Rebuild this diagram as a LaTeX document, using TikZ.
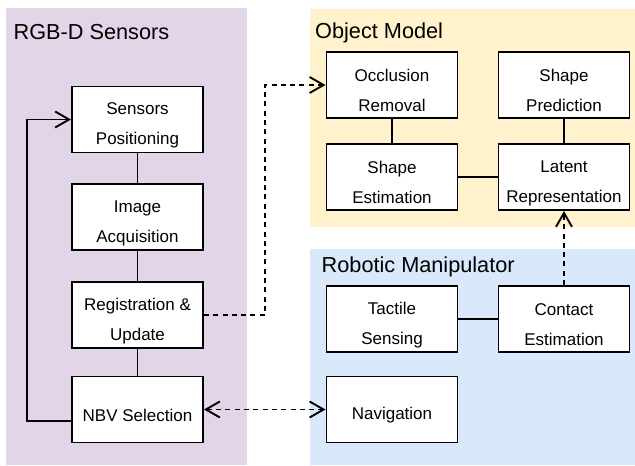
\documentclass[tikz,border=0pt]{standalone}
\usepackage{fontspec}
\setmainfont{Liberation Sans}
\usetikzlibrary{arrows.meta}
\definecolor{pfill}{HTML}{E1D5E7}
\definecolor{ofill}{HTML}{FFF2CC}
\definecolor{bfill}{HTML}{DAE8FC}
\newcommand{\bxs}{\rule[-1pt]{0pt}{25pt}}
\tikzset{
  ptitle/.style={anchor=base west, inner sep=0pt, font=\fontsize{21.7}{26}\selectfont},
  box/.style={draw=black, fill=white, line width=1.9pt, minimum width=131pt, minimum height=66pt,
    inner sep=0pt, align=center, font=\fontsize{17}{30}\selectfont},
  conn/.style={line width=1.9pt},
  tip/.style={},
  arr/.style={conn, -{Straight Barb[length=14pt,width=16pt,line width=1.9pt]}},
  dasharr/.style={arr, dash pattern=on 5pt off 4.3pt},
  dasharr2/.style={conn, dash pattern=on 5pt off 4.3pt, {Straight Barb[length=14pt,width=16pt,line width=1.9pt]}-{Straight Barb[length=14pt,width=16pt,line width=1.9pt]}}
}
\begin{document}
\begin{tikzpicture}[x=1pt,y=-1pt]
\useasboundingbox (0,0) rectangle (635,466);
% panels
\fill[pfill] (6,8) rectangle (247,465);
\fill[ofill] (310,9) rectangle (635,227);
\fill[bfill] (310,249) rectangle (635,465);
\node[ptitle] (t1) at (13.5,39) {RGB-D Sensors};
\node[ptitle] (t2) at (315,38) {Object Model};
\node[ptitle] (t3) at (321.5,272.5) {Robotic Manipulator};
% left boxes
\node[box] (sp) at (137.5,119.5) {\bxs Sensors\\\bxs Positioning};
\node[box] (ia) at (137.5,217) {\bxs Image\\\bxs Acquisition};
\node[box] (ru) at (137.5,315) {\bxs Registration \&\\\bxs Update};
\node[box] (nbv) at (137.5,409.5) {\bxs NBV Selection};
% object model boxes
\node[box] (occ) at (392,85) {\bxs Occlusion\\\bxs Removal};
\node[box] (spd) at (564,85) {\bxs Shape\\\bxs Prediction};
\node[box] (se) at (392,177) {\bxs Shape\\\bxs Estimation};
\node[box] (lr) at (564,177) {\bxs Latent\\\bxs Representation};
% manipulator boxes
\node[box] (ts) at (392,319) {\bxs Tactile\\\bxs Sensing};
\node[box] (ce) at (564,319) {\bxs Contact\\\bxs Estimation};
\node[box] (nav) at (392,409.5) {\bxs Navigation};
% connectors
\draw[conn] (sp) -- (ia);
\draw[conn] (ia) -- (ru);
\draw[conn] (ru) -- (nbv);
\draw[arr] ([yshift=-11.5pt]nbv.west) -- ++(-44,0) |- (sp.west);
\draw[dasharr] (ru.east) -- ++(61,0) |- (occ.west);
\draw[dasharr2] (nbv.east) -- (nav.west);
\draw[conn] (occ) -- (se);
\draw[conn] (spd) -- (lr);
\draw[conn] (se) -- (lr);
\draw[conn] (ts) -- (ce);
\draw[dasharr] (ce.north) -- (lr.south);
\end{tikzpicture}
\end{document}
